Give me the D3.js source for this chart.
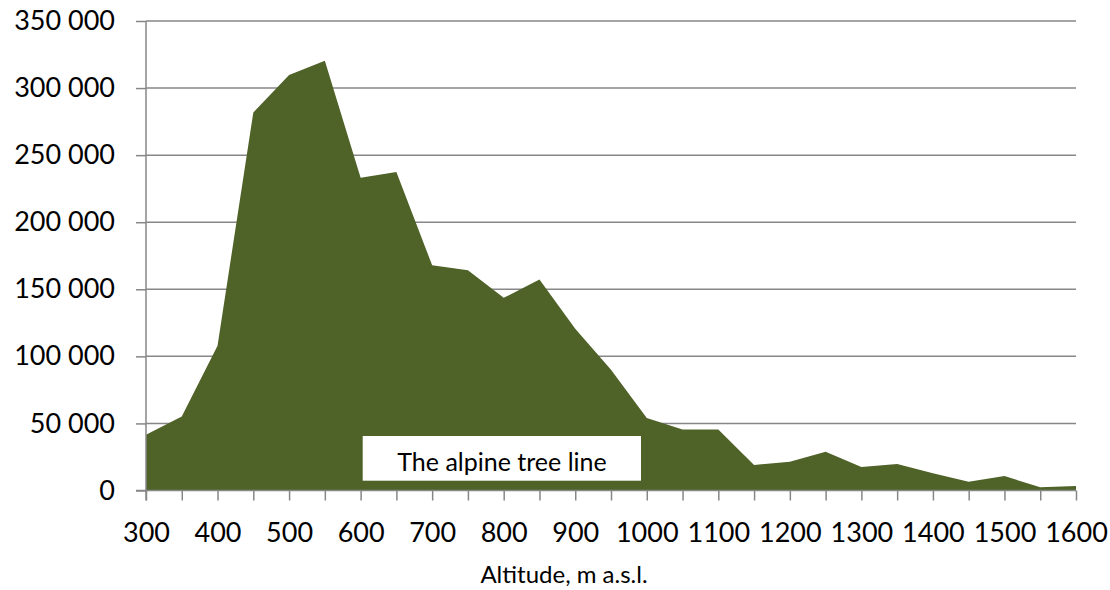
<!DOCTYPE html>
<html>
<head>
<meta charset="utf-8">
<script src="https://cdn.jsdelivr.net/npm/d3@7"></script>
<style>
  body { margin: 0; background: #fff; }
  text { font-family: Lato, "Open Sans", sans-serif; fill: #000; }
</style>
</head>
<body>
<div class="chart"></div>
<script>
// data
var altitudes = [300, 350, 400, 450, 500, 550, 600, 650, 700, 750, 800, 850, 900, 950,
  1000, 1050, 1100, 1150, 1200, 1250, 1300, 1350, 1400, 1450, 1500, 1550, 1600];
var areaValues = [41500, 55100, 107900, 281800, 309700, 320300, 233200, 237400, 167900,
  164200, 143600, 157300, 120500, 90100, 54100, 45400, 45400, 19000, 21500, 28800,
  17600, 19800, 12800, 6600, 10800, 2400, 3400];
var yTicks = [0, 50000, 100000, 150000, 200000, 250000, 300000, 350000];
var xLabels = [300, 400, 500, 600, 700, 800, 900, 1000, 1100, 1200, 1300, 1400, 1500, 1600];
var axisTitle = "Altitude, m a.s.l.";
var boxLabel = "The alpine tree line";

var svgWidth = 1110;
var svgHeight = 590;

var margin = {
  top: 21,
  right: 34,
  bottom: 99.5,
  left: 146
};

var width = svgWidth - margin.left - margin.right;
var height = svgHeight - margin.top - margin.bottom;

var gridColor = "#878787";

var svg = d3
  .select(".chart")
  .append("svg")
  .attr("width", svgWidth)
  .attr("height", svgHeight);

var chartGroup = svg.append("g")
  .attr("transform", `translate(${margin.left}, ${margin.top})`);

var data = altitudes.map((a, i) => ({ alt: a, value: areaValues[i] }));

// scales
var xLinearScale = d3.scaleLinear()
  .domain([300, 1600])
  .range([0, width]);

var yLinearScale = d3.scaleLinear()
  .domain([0, 350000])
  .range([height, 0]);

var spaceFormat = d3.formatLocale({
  decimal: ",",
  thousands: " ",
  grouping: [3],
  currency: ["", ""]
}).format(",");

// horizontal gridlines (behind the area)
chartGroup.append("g")
  .selectAll("line")
  .data(yTicks.filter(d => d > 0))
  .enter()
  .append("line")
  .attr("x1", 0)
  .attr("x2", width)
  .attr("y1", d => yLinearScale(d))
  .attr("y2", d => yLinearScale(d))
  .attr("stroke", gridColor)
  .attr("stroke-width", 1.5);

// the area
var area = d3.area()
  .x(d => xLinearScale(d.alt))
  .y0(yLinearScale(0))
  .y1(d => yLinearScale(d.value));

chartGroup.append("path")
  .datum(data)
  .attr("d", area)
  .attr("fill", "#4f6228");

// y axis
var leftAxis = d3.axisLeft(yLinearScale)
  .tickValues(yTicks)
  .tickSize(10)
  .tickPadding(21)
  .tickFormat(spaceFormat);

var yAxis = chartGroup.append("g")
  .call(leftAxis);

// x axis
var bottomAxis = d3.axisBottom(xLinearScale)
  .tickValues(altitudes)
  .tickSize(10)
  .tickPadding(22)
  .tickFormat(d => xLabels.indexOf(d) >= 0 ? d : "");

var xAxis = chartGroup.append("g")
  .attr("transform", `translate(0, ${height})`)
  .call(bottomAxis);

[xAxis, yAxis].forEach(function(ax) {
  ax.select(".domain").remove();
  ax.selectAll(".tick line")
    .attr("stroke", gridColor)
    .attr("stroke-width", 1.5);
  ax.selectAll(".tick text")
    .style("font-size", "27px")
    .attr("fill", "#000");
});

// axis lines drawn on top of the area
chartGroup.append("line")
  .attr("x1", 0)
  .attr("x2", 0)
  .attr("y1", 0)
  .attr("y2", height + 10)
  .attr("stroke", gridColor)
  .attr("stroke-width", 1.5);

chartGroup.append("line")
  .attr("x1", -10)
  .attr("x2", width)
  .attr("y1", height)
  .attr("y2", height)
  .attr("stroke", gridColor)
  .attr("stroke-width", 1.5);

// annotation box
var box = chartGroup.append("g")
  .attr("transform", "translate(216.7, 415)");

box.append("rect")
  .attr("width", 278.3)
  .attr("height", 44.7)
  .attr("fill", "#fff");

box.append("text")
  .attr("x", 139.3)
  .attr("y", 34.7)
  .attr("text-anchor", "middle")
  .style("font-size", "25px")
  .text(boxLabel);

// x axis title
svg.append("text")
  .attr("x", 564)
  .attr("y", 583)
  .attr("text-anchor", "middle")
  .style("font-size", "24px")
  .text(axisTitle);
</script>
</body>
</html>
